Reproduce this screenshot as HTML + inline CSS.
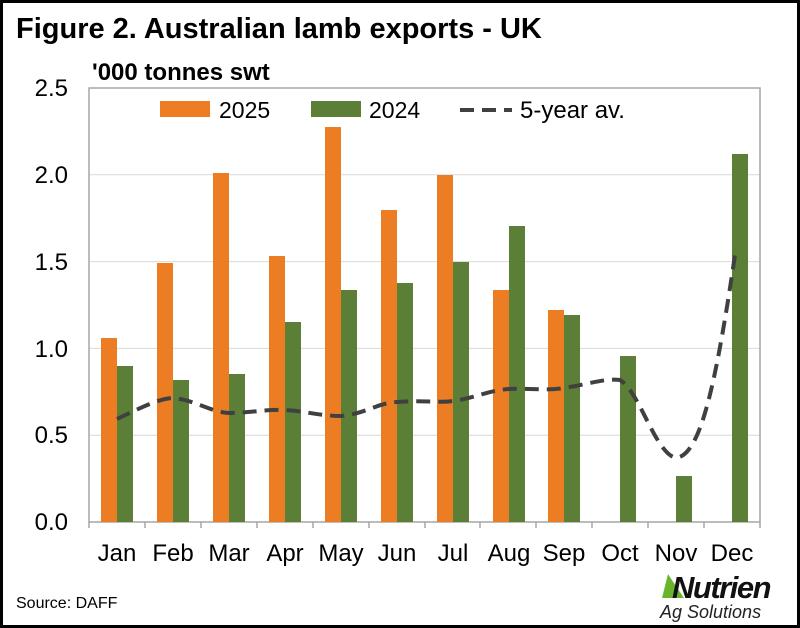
<!DOCTYPE html>
<html><head><style>
body{margin:0;background:#fff}
svg{display:block}
text{font-family:"Liberation Sans",Arial,sans-serif}
</style></head><body>
<svg width="800" height="628" viewBox="0 0 800 628">
<rect x="1.5" y="1.5" width="797" height="625" fill="#fff" stroke="#000" stroke-width="3"/>
<text x="16" y="38" font-size="29" font-weight="bold">Figure 2. Australian lamb exports - UK</text>
<text x="92" y="80" font-size="24" font-weight="bold">'000 tonnes swt</text>
<g stroke="#d9d9d9" stroke-width="1">
<line x1="89" x2="760" y1="174.8" y2="174.8"/><line x1="89" x2="760" y1="261.6" y2="261.6"/>
<line x1="89" x2="760" y1="348.4" y2="348.4"/><line x1="89" x2="760" y1="435.2" y2="435.2"/>
</g>
<rect x="89" y="88" width="671" height="434" fill="none" stroke="#a6a6a6" stroke-width="1.5"/>
<g font-size="24" text-anchor="end">
<text x="68" y="96">2.5</text><text x="68" y="183">2.0</text><text x="68" y="270">1.5</text>
<text x="68" y="357">1.0</text><text x="68" y="443">0.5</text><text x="68" y="530">0.0</text>
</g>
<g font-size="24" text-anchor="middle">
<text x="117" y="561">Jan</text><text x="173" y="561">Feb</text><text x="229" y="561">Mar</text>
<text x="285" y="561">Apr</text><text x="341" y="561">May</text><text x="397" y="561">Jun</text>
<text x="453" y="561">Jul</text><text x="509" y="561">Aug</text><text x="564" y="561">Sep</text>
<text x="620" y="561">Oct</text><text x="676" y="561">Nov</text><text x="732" y="561">Dec</text>
</g>
<g fill="#ED7D22">
<rect x="101" y="338" width="16" height="184"/><rect x="157" y="263" width="16" height="259"/>
<rect x="213" y="173" width="16" height="349"/><rect x="269" y="256" width="16" height="266"/>
<rect x="325" y="127" width="16" height="395"/><rect x="381" y="210" width="16" height="312"/>
<rect x="437" y="175" width="16" height="347"/><rect x="493" y="290" width="16" height="232"/>
<rect x="548" y="310" width="16" height="212"/>
</g>
<g fill="#5B7F36">
<rect x="117" y="366" width="16" height="156"/><rect x="173" y="380" width="16" height="142"/>
<rect x="229" y="374" width="16" height="148"/><rect x="285" y="322" width="16" height="200"/>
<rect x="341" y="290" width="16" height="232"/><rect x="397" y="283" width="16" height="239"/>
<rect x="453" y="262" width="16" height="260"/><rect x="509" y="226" width="16" height="296"/>
<rect x="564" y="315" width="16" height="207"/><rect x="620" y="356" width="16" height="166"/>
<rect x="676" y="476" width="16" height="46"/><rect x="732" y="154" width="16" height="368"/>
</g>
<g stroke="#a6a6a6" stroke-width="1.5">
<line x1="89" x2="89" y1="522" y2="528"/><line x1="760" x2="760" y1="522" y2="528"/>
<line x1="145" x2="145" y1="522" y2="528"/><line x1="201" x2="201" y1="522" y2="528"/>
<line x1="257" x2="257" y1="522" y2="528"/><line x1="313" x2="313" y1="522" y2="528"/>
<line x1="369" x2="369" y1="522" y2="528"/><line x1="425" x2="425" y1="522" y2="528"/>
<line x1="480" x2="480" y1="522" y2="528"/><line x1="536" x2="536" y1="522" y2="528"/>
<line x1="592" x2="592" y1="522" y2="528"/><line x1="648" x2="648" y1="522" y2="528"/>
<line x1="704" x2="704" y1="522" y2="528"/>
</g>
<path d="M117,419 C140,408 160,398 173,398 C195,400 210,412 229,413 C250,413 265,409 285,410 C305,411 320,416 341,416 C365,414 380,402 397,402 C420,400 440,403 453,401 C475,398 490,390 509,389 C530,388 545,391 564,388 C585,385 605,378 620,380 C640,392 655,453 676,458 C700,455 715,390 735,255"
 fill="none" stroke="#404040" stroke-width="4" stroke-dasharray="14,8"/>
<rect x="160" y="101" width="50" height="16" fill="#ED7D22"/>
<text x="219" y="118" font-size="23">2025</text>
<rect x="311" y="101" width="50" height="16" fill="#5B7F36"/>
<text x="369" y="118" font-size="23">2024</text>
<line x1="460" x2="512" y1="110" y2="110" stroke="#404040" stroke-width="4" stroke-dasharray="14,8"/>
<text x="520" y="118" font-size="24">5-year av.</text>
<text x="16" y="608" font-size="16">Source: DAFF</text>
<path d="M662,598 L668,574 C675,585 680,592 684,598 Z" fill="#6ab42d"/>
<text x="672" y="598" font-size="31" font-weight="bold" font-style="italic" fill="#111" letter-spacing="-1.5">Nutrien</text>
<text x="660" y="618" font-size="18" font-style="italic" fill="#222">Ag Solutions</text>
</svg>
</body></html>
